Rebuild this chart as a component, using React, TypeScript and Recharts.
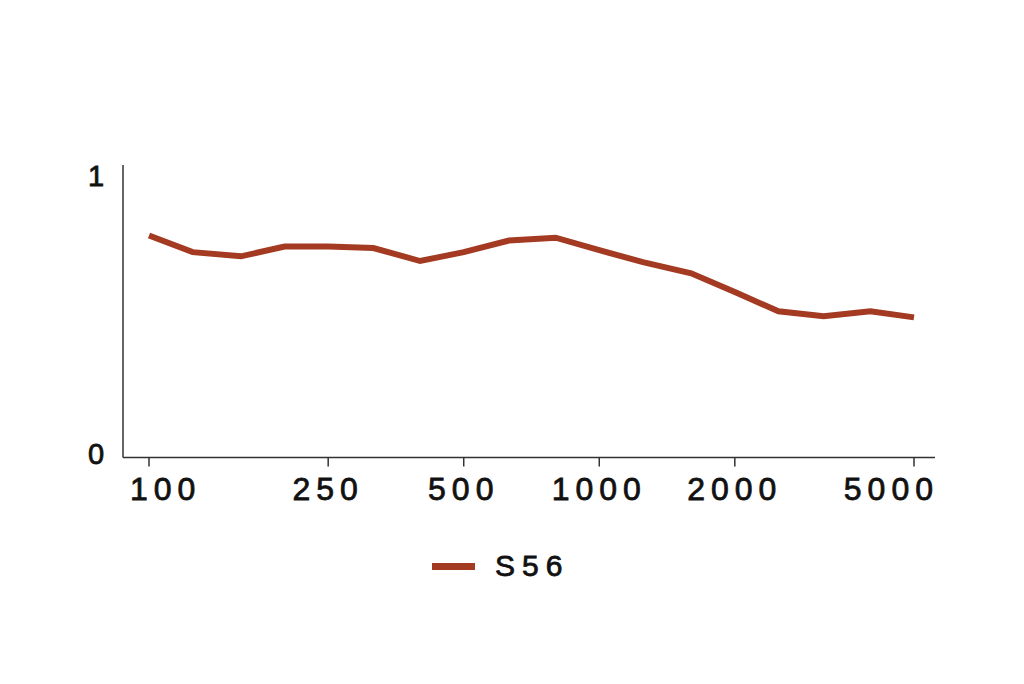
import { LineChart, Line, XAxis, YAxis, Legend } from 'recharts';

const frequencies = [100, 125, 160, 200, 250, 315, 400, 500, 630, 800, 1000, 1250, 1600, 2000, 2500, 3150, 4000, 5000];
const s56Values = [0.8, 0.74, 0.725, 0.76, 0.76, 0.755, 0.708, 0.74, 0.782, 0.792, 0.747, 0.704, 0.664, 0.596, 0.527, 0.509, 0.527, 0.505];
const xTicks = [100, 250, 500, 1000, 2000, 5000];
const yTicks = [0, 1];

const LINE_COLOR = '#a33a21';
const TEXT_COLOR = '#111';
const FONT = '"Liberation Sans", Arial, Helvetica, sans-serif';

const chartData = frequencies.map((f, i) => ({ freq: f, S56: s56Values[i] }));

// first and last labels are pulled inside the axis
const FreqTick = (props: any) => {
  const { x, y, payload, index } = props;
  let anchor = 'middle';
  let dx = 0;
  if (index === 0) { anchor = 'start'; dx = -19; }
  if (index === xTicks.length - 1) { anchor = 'end'; dx = 25; }
  return (
    <text
      x={x + dx}
      y={y}
      dy="0.71em"
      textAnchor={anchor}
      fill={TEXT_COLOR}
      stroke={TEXT_COLOR}
      strokeWidth={0.8}
      fontSize={32}
      fontFamily={FONT}
      letterSpacing={6}
    >
      {payload.value}
    </text>
  );
};

const ValueTick = (props: any) => {
  const { x, y, payload } = props;
  return (
    <text
      x={x - 10}
      y={y - 4}
      dy="0.355em"
      textAnchor="middle"
      fill={TEXT_COLOR}
      stroke={TEXT_COLOR}
      strokeWidth={0.8}
      fontSize={29}
      fontFamily={FONT}
    >
      {payload.value}
    </text>
  );
};

const LegendContent = () => (
  <div style={{ height: 40, display: 'flex', alignItems: 'center', paddingLeft: 432, fontFamily: FONT }}>
    <span style={{ display: 'inline-block', width: 43, height: 7, background: LINE_COLOR }} />
    <span
      style={{ marginLeft: 20, fontSize: 30, letterSpacing: 7, color: TEXT_COLOR, WebkitTextStroke: `0.8px ${TEXT_COLOR}` }}
    >
      S56
    </span>
  </div>
);

export default function App() {
  return (
    <div style={{ position: 'absolute', left: 0, top: 0, background: '#fff' }}>
      <LineChart width={1024} height={684} data={chartData} margin={{ top: 165, right: 89, bottom: 98, left: 0 }}>
        <XAxis
          dataKey="freq"
          type="number"
          scale="log"
          domain={[100, 5000]}
          ticks={xTicks}
          padding={{ left: 26, right: 21 }}
          height={88.5}
          tickSize={9}
          tickMargin={11}
          stroke="#333"
          strokeWidth={1.5}
          tick={<FreqTick />}
        />
        <YAxis
          type="number"
          domain={[0, 1]}
          ticks={yTicks}
          padding={{ top: 15, bottom: 0 }}
          width={123}
          tickLine={false}
          tickSize={0}
          tickMargin={17}
          stroke="#333"
          strokeWidth={1.5}
          tick={<ValueTick />}
        />
        <Legend verticalAlign="bottom" height={40} content={<LegendContent />} />
        <Line
          type="linear"
          dataKey="S56"
          stroke={LINE_COLOR}
          strokeWidth={6}
          dot={false}
          isAnimationActive={false}
        />
      </LineChart>
    </div>
  );
}
